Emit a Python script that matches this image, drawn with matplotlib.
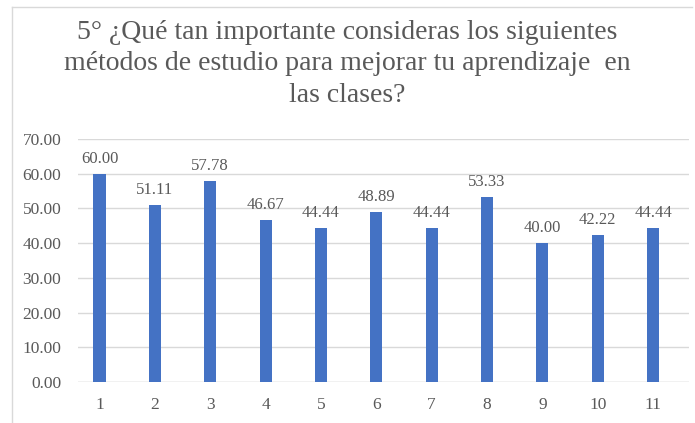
import matplotlib
matplotlib.use("Agg")
import matplotlib.pyplot as plt
from matplotlib.lines import Line2D

categories = ["1", "2", "3", "4", "5", "6", "7", "8", "9", "10", "11"]
values = [60.00, 51.11, 57.78, 46.67, 44.44, 48.89, 44.44, 53.33, 40.00, 42.22, 44.44]
yticks = [0, 10, 20, 30, 40, 50, 60, 70]
title = "5° ¿Qué tan importante consideras los siguientes\nmétodos de estudio para mejorar tu aprendizaje  en\nlas clases?"

W, H = 695, 423
fig = plt.figure(figsize=(W/100, H/100), dpi=100)
plt.rcParams['font.family'] = ['Liberation Serif', 'DejaVu Serif']
gray = "#595959"

L, R, B, T = 78, 689, 382, 139
ax = fig.add_axes([L/W, 1 - B/H, (R-L)/W, (B-T)/H])
x = list(range(1, len(values)+1))
bars = ax.bar(x, values, width=0.22, color="#4472C4", zorder=3)
ax.set_xlim(0.61, 11.65)
ax.set_ylim(0, 70)
ax.set_yticks(yticks)
ax.set_yticklabels([f"{v:.2f}" for v in yticks], fontsize=12.5, color=gray)
ax.set_xticks(x)
ax.set_xticklabels(categories, fontsize=12.5, color=gray)
ax.tick_params(axis='x', length=0, pad=11)
ax.tick_params(axis='y', length=0, pad=12)
ax.grid(axis='y', color="#D9D9D9", linewidth=1, zorder=0)
for s in ax.spines.values():
    s.set_visible(False)
ax.axhline(0, color="#D9D9D9", linewidth=1, zorder=2)
for xi, v in zip(x, values):
    ax.annotate(f"{v:.2f}", (xi, v), xytext=(0, 5), textcoords="offset points",
                ha="center", va="bottom", fontsize=12, color=gray)

fig.text(0.5, 1 - 64/H, title, ha="center", va="center", fontsize=20, color=gray, linespacing=1.33)

fig.add_artist(Line2D([12/W, 692/W], [1-7/H, 1-7/H], color="#D9D9D9", linewidth=1, transform=fig.transFigure))
fig.add_artist(Line2D([12/W, 12/W], [1-7/H, 0], color="#D9D9D9", linewidth=1, transform=fig.transFigure))

fig.savefig("out.png", dpi=100)
